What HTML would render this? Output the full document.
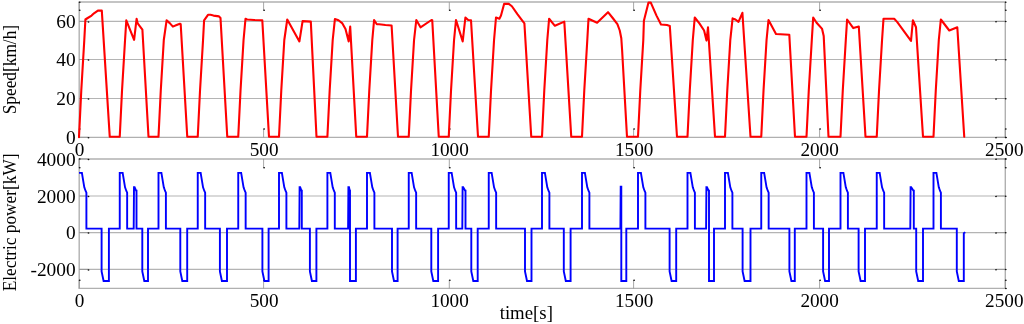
<!DOCTYPE html>
<html><head><meta charset="utf-8"><title>Speed and electric power</title>
<style>html,body{margin:0;padding:0;background:#fff;width:1024px;height:324px;overflow:hidden}</style>
</head><body>
<svg width="1024" height="324" viewBox="0 0 1024 324" style="position:absolute;left:0;top:0">
<rect x="0" y="0" width="1024" height="324" fill="#fff"/>
<line x1="79.2" y1="98.50" x2="1005.3" y2="98.50" stroke="#b4b4b4" stroke-width="1.15"/>
<line x1="79.2" y1="59.50" x2="1005.3" y2="59.50" stroke="#b4b4b4" stroke-width="1.15"/>
<line x1="79.2" y1="21.40" x2="1005.3" y2="21.40" stroke="#b4b4b4" stroke-width="1.15"/>
<line x1="79.2" y1="196.00" x2="1005.3" y2="196.00" stroke="#b4b4b4" stroke-width="1.15"/>
<line x1="79.2" y1="232.60" x2="1005.3" y2="232.60" stroke="#b4b4b4" stroke-width="1.15"/>
<line x1="79.2" y1="269.40" x2="1005.3" y2="269.40" stroke="#b4b4b4" stroke-width="1.15"/>
<line x1="78.5" y1="2.1" x2="1006.0" y2="2.1" stroke="#b0b0b0" stroke-width="1.5"/>
<line x1="78.60000000000001" y1="137.3" x2="1005.9" y2="137.3" stroke="#b0b0b0" stroke-width="1.2"/>
<line x1="79.2" y1="2.1" x2="79.2" y2="137.3" stroke="#b0b0b0" stroke-width="1.4"/>
<line x1="1005.3" y1="2.1" x2="1005.3" y2="137.3" stroke="#b0b0b0" stroke-width="1.4"/>
<line x1="78.5" y1="158.9" x2="1006.0" y2="158.9" stroke="#b0b0b0" stroke-width="1.5"/>
<line x1="78.60000000000001" y1="288.4" x2="1005.9" y2="288.4" stroke="#b0b0b0" stroke-width="1.2"/>
<line x1="79.2" y1="158.9" x2="79.2" y2="288.4" stroke="#b0b0b0" stroke-width="1.4"/>
<line x1="1005.3" y1="158.9" x2="1005.3" y2="288.4" stroke="#b0b0b0" stroke-width="1.4"/>
<line x1="79.20" y1="2.1" x2="79.20" y2="10.299999999999999" stroke="#909090" stroke-width="0.8"/>
<line x1="79.20" y1="137.3" x2="79.20" y2="129.10000000000002" stroke="#909090" stroke-width="0.8"/>
<line x1="263.60" y1="2.1" x2="263.60" y2="10.299999999999999" stroke="#909090" stroke-width="0.8"/>
<line x1="263.60" y1="137.3" x2="263.60" y2="129.10000000000002" stroke="#909090" stroke-width="0.8"/>
<line x1="449.30" y1="2.1" x2="449.30" y2="10.299999999999999" stroke="#909090" stroke-width="0.8"/>
<line x1="449.30" y1="137.3" x2="449.30" y2="129.10000000000002" stroke="#909090" stroke-width="0.8"/>
<line x1="633.60" y1="2.1" x2="633.60" y2="10.299999999999999" stroke="#909090" stroke-width="0.8"/>
<line x1="633.60" y1="137.3" x2="633.60" y2="129.10000000000002" stroke="#909090" stroke-width="0.8"/>
<line x1="819.60" y1="2.1" x2="819.60" y2="10.299999999999999" stroke="#909090" stroke-width="0.8"/>
<line x1="819.60" y1="137.3" x2="819.60" y2="129.10000000000002" stroke="#909090" stroke-width="0.8"/>
<line x1="1005.30" y1="2.1" x2="1005.30" y2="10.299999999999999" stroke="#909090" stroke-width="0.8"/>
<line x1="1005.30" y1="137.3" x2="1005.30" y2="129.10000000000002" stroke="#909090" stroke-width="0.8"/>
<line x1="79.2" y1="137.30" x2="88.5" y2="137.30" stroke="#909090" stroke-width="0.8"/>
<line x1="1005.3" y1="137.30" x2="996.0" y2="137.30" stroke="#909090" stroke-width="0.8"/>
<line x1="79.2" y1="98.50" x2="88.5" y2="98.50" stroke="#909090" stroke-width="0.8"/>
<line x1="1005.3" y1="98.50" x2="996.0" y2="98.50" stroke="#909090" stroke-width="0.8"/>
<line x1="79.2" y1="59.50" x2="88.5" y2="59.50" stroke="#909090" stroke-width="0.8"/>
<line x1="1005.3" y1="59.50" x2="996.0" y2="59.50" stroke="#909090" stroke-width="0.8"/>
<line x1="79.2" y1="21.40" x2="88.5" y2="21.40" stroke="#909090" stroke-width="0.8"/>
<line x1="1005.3" y1="21.40" x2="996.0" y2="21.40" stroke="#909090" stroke-width="0.8"/>
<line x1="79.20" y1="158.9" x2="79.20" y2="167.70000000000002" stroke="#909090" stroke-width="0.8"/>
<line x1="79.20" y1="288.4" x2="79.20" y2="280.2" stroke="#909090" stroke-width="0.8"/>
<line x1="263.60" y1="158.9" x2="263.60" y2="167.70000000000002" stroke="#909090" stroke-width="0.8"/>
<line x1="263.60" y1="288.4" x2="263.60" y2="280.2" stroke="#909090" stroke-width="0.8"/>
<line x1="449.30" y1="158.9" x2="449.30" y2="167.70000000000002" stroke="#909090" stroke-width="0.8"/>
<line x1="449.30" y1="288.4" x2="449.30" y2="280.2" stroke="#909090" stroke-width="0.8"/>
<line x1="633.60" y1="158.9" x2="633.60" y2="167.70000000000002" stroke="#909090" stroke-width="0.8"/>
<line x1="633.60" y1="288.4" x2="633.60" y2="280.2" stroke="#909090" stroke-width="0.8"/>
<line x1="819.60" y1="158.9" x2="819.60" y2="167.70000000000002" stroke="#909090" stroke-width="0.8"/>
<line x1="819.60" y1="288.4" x2="819.60" y2="280.2" stroke="#909090" stroke-width="0.8"/>
<line x1="1005.30" y1="158.9" x2="1005.30" y2="167.70000000000002" stroke="#909090" stroke-width="0.8"/>
<line x1="1005.30" y1="288.4" x2="1005.30" y2="280.2" stroke="#909090" stroke-width="0.8"/>
<line x1="79.2" y1="269.40" x2="88.5" y2="269.40" stroke="#909090" stroke-width="0.8"/>
<line x1="1005.3" y1="269.40" x2="996.0" y2="269.40" stroke="#909090" stroke-width="0.8"/>
<line x1="79.2" y1="232.60" x2="88.5" y2="232.60" stroke="#909090" stroke-width="0.8"/>
<line x1="1005.3" y1="232.60" x2="996.0" y2="232.60" stroke="#909090" stroke-width="0.8"/>
<line x1="79.2" y1="196.00" x2="88.5" y2="196.00" stroke="#909090" stroke-width="0.8"/>
<line x1="1005.3" y1="196.00" x2="996.0" y2="196.00" stroke="#909090" stroke-width="0.8"/>
<line x1="79.2" y1="158.90" x2="88.5" y2="158.90" stroke="#909090" stroke-width="0.8"/>
<line x1="1005.3" y1="158.90" x2="996.0" y2="158.90" stroke="#909090" stroke-width="0.8"/>
<ellipse cx="79.70" cy="10.30" rx="0.95" ry="0.75" fill="#111"/>
<ellipse cx="79.70" cy="129.10" rx="0.95" ry="0.75" fill="#111"/>
<ellipse cx="264.10" cy="10.30" rx="0.95" ry="0.75" fill="#111"/>
<ellipse cx="264.10" cy="129.10" rx="0.95" ry="0.75" fill="#111"/>
<ellipse cx="449.80" cy="10.30" rx="0.95" ry="0.75" fill="#111"/>
<ellipse cx="449.80" cy="129.10" rx="0.95" ry="0.75" fill="#111"/>
<ellipse cx="634.10" cy="10.30" rx="0.95" ry="0.75" fill="#111"/>
<ellipse cx="634.10" cy="129.10" rx="0.95" ry="0.75" fill="#111"/>
<ellipse cx="820.10" cy="10.30" rx="0.95" ry="0.75" fill="#111"/>
<ellipse cx="820.10" cy="129.10" rx="0.95" ry="0.75" fill="#111"/>
<ellipse cx="1005.80" cy="10.30" rx="0.95" ry="0.75" fill="#111"/>
<ellipse cx="1005.80" cy="129.10" rx="0.95" ry="0.75" fill="#111"/>
<ellipse cx="88.50" cy="137.80" rx="0.95" ry="0.75" fill="#111"/>
<ellipse cx="996.00" cy="137.70" rx="0.95" ry="0.75" fill="#111"/>
<ellipse cx="1005.70" cy="137.50" rx="0.95" ry="0.75" fill="#111"/>
<ellipse cx="88.50" cy="99.00" rx="0.95" ry="0.75" fill="#111"/>
<ellipse cx="996.00" cy="98.90" rx="0.95" ry="0.75" fill="#111"/>
<ellipse cx="1005.70" cy="98.70" rx="0.95" ry="0.75" fill="#111"/>
<ellipse cx="88.50" cy="60.00" rx="0.95" ry="0.75" fill="#111"/>
<ellipse cx="996.00" cy="59.90" rx="0.95" ry="0.75" fill="#111"/>
<ellipse cx="1005.70" cy="59.70" rx="0.95" ry="0.75" fill="#111"/>
<ellipse cx="88.50" cy="21.90" rx="0.95" ry="0.75" fill="#111"/>
<ellipse cx="996.00" cy="21.80" rx="0.95" ry="0.75" fill="#111"/>
<ellipse cx="1005.70" cy="21.60" rx="0.95" ry="0.75" fill="#111"/>
<ellipse cx="79.70" cy="2.30" rx="0.95" ry="0.75" fill="#111"/>
<ellipse cx="1005.70" cy="2.30" rx="0.95" ry="0.75" fill="#111"/>
<ellipse cx="1005.90" cy="137.40" rx="0.95" ry="0.75" fill="#111"/>
<ellipse cx="79.70" cy="167.70" rx="0.95" ry="0.75" fill="#111"/>
<ellipse cx="79.70" cy="280.20" rx="0.95" ry="0.75" fill="#111"/>
<ellipse cx="264.10" cy="167.70" rx="0.95" ry="0.75" fill="#111"/>
<ellipse cx="264.10" cy="280.20" rx="0.95" ry="0.75" fill="#111"/>
<ellipse cx="449.80" cy="167.70" rx="0.95" ry="0.75" fill="#111"/>
<ellipse cx="449.80" cy="280.20" rx="0.95" ry="0.75" fill="#111"/>
<ellipse cx="634.10" cy="167.70" rx="0.95" ry="0.75" fill="#111"/>
<ellipse cx="634.10" cy="280.20" rx="0.95" ry="0.75" fill="#111"/>
<ellipse cx="820.10" cy="167.70" rx="0.95" ry="0.75" fill="#111"/>
<ellipse cx="820.10" cy="280.20" rx="0.95" ry="0.75" fill="#111"/>
<ellipse cx="1005.80" cy="167.70" rx="0.95" ry="0.75" fill="#111"/>
<ellipse cx="1005.80" cy="280.20" rx="0.95" ry="0.75" fill="#111"/>
<ellipse cx="88.50" cy="269.90" rx="0.95" ry="0.75" fill="#111"/>
<ellipse cx="996.00" cy="269.80" rx="0.95" ry="0.75" fill="#111"/>
<ellipse cx="1005.70" cy="269.60" rx="0.95" ry="0.75" fill="#111"/>
<ellipse cx="88.50" cy="233.10" rx="0.95" ry="0.75" fill="#111"/>
<ellipse cx="996.00" cy="233.00" rx="0.95" ry="0.75" fill="#111"/>
<ellipse cx="1005.70" cy="232.80" rx="0.95" ry="0.75" fill="#111"/>
<ellipse cx="88.50" cy="196.50" rx="0.95" ry="0.75" fill="#111"/>
<ellipse cx="996.00" cy="196.40" rx="0.95" ry="0.75" fill="#111"/>
<ellipse cx="1005.70" cy="196.20" rx="0.95" ry="0.75" fill="#111"/>
<ellipse cx="88.50" cy="159.40" rx="0.95" ry="0.75" fill="#111"/>
<ellipse cx="996.00" cy="159.30" rx="0.95" ry="0.75" fill="#111"/>
<ellipse cx="1005.70" cy="159.10" rx="0.95" ry="0.75" fill="#111"/>
<ellipse cx="79.70" cy="159.10" rx="0.95" ry="0.75" fill="#111"/>
<ellipse cx="1005.70" cy="159.10" rx="0.95" ry="0.75" fill="#111"/>
<ellipse cx="1005.90" cy="288.50" rx="0.95" ry="0.75" fill="#111"/>
<polyline points="79.00,137.20 81.30,90.00 84.30,40.00 85.40,19.50 87.70,18.00 91.60,15.60 94.00,13.30 97.90,10.60 101.80,10.60 109.75,136.80 119.75,136.80 122.05,90.00 125.05,40.00 126.30,20.30 134.10,39.80 136.60,18.75 137.70,23.40 140.10,26.60 142.40,29.70 148.50,136.80 158.50,136.80 160.80,90.00 163.80,40.00 166.60,20.30 169.75,23.10 172.90,26.60 176.00,25.30 179.90,23.75 180.70,24.20 187.25,136.80 197.75,136.80 200.05,90.00 203.05,40.00 204.10,20.30 208.00,14.80 210.40,14.80 213.50,15.60 219.00,16.40 220.50,18.00 227.25,136.80 238.25,136.80 240.55,90.00 243.55,40.00 245.50,18.75 247.10,19.50 254.10,20.00 262.30,20.30 269.00,136.80 279.00,136.80 281.30,90.00 284.30,40.00 287.25,19.50 299.40,41.40 302.60,21.10 310.80,21.60 316.50,136.80 327.40,136.80 329.70,90.00 332.70,40.00 334.90,19.10 338.50,20.30 342.40,23.40 345.50,28.90 348.70,41.40 350.20,26.60 356.25,136.80 367.00,136.80 369.30,90.00 372.30,40.00 374.10,20.00 376.80,24.20 379.10,24.20 385.40,25.00 391.60,25.50 398.00,136.80 408.75,136.80 411.05,90.00 414.05,40.00 416.30,20.00 420.50,27.30 431.50,20.00 432.25,20.30 438.75,136.80 448.75,136.80 451.05,90.00 454.05,40.00 456.00,20.00 462.70,41.40 465.40,17.50 468.20,20.00 471.00,20.30 478.00,136.80 488.75,136.80 491.05,90.00 494.05,40.00 496.00,17.50 499.40,18.75 501.00,15.60 504.10,3.90 508.80,3.90 511.90,6.25 517.40,14.10 522.10,20.30 524.40,23.40 531.25,136.80 542.00,136.80 544.30,90.00 547.30,40.00 549.10,18.75 554.90,25.80 564.30,21.60 571.25,136.80 582.00,136.80 584.30,90.00 587.30,40.00 588.50,18.75 597.10,22.70 608.00,12.20 612.70,18.00 617.40,24.20 619.75,30.50 621.30,38.30 622.10,50.00 627.00,136.80 638.00,136.80 640.30,90.00 643.30,40.00 643.90,20.80 648.50,2.60 650.80,2.60 656.50,15.60 661.00,24.50 667.00,25.00 669.80,25.90 677.00,136.80 687.50,136.80 689.80,90.00 692.80,40.00 694.75,17.50 699.40,23.40 704.10,30.50 706.50,40.60 708.00,27.30 715.00,136.80 725.00,136.80 727.30,90.00 730.30,40.00 732.60,18.40 735.40,19.50 738.50,21.90 742.40,12.80 750.50,136.80 761.25,136.80 763.55,90.00 766.55,40.00 768.50,20.00 776.00,34.00 789.30,34.70 795.00,136.80 806.50,136.80 808.80,90.00 811.80,40.00 813.20,17.50 816.60,22.70 822.10,28.90 823.70,35.90 828.50,136.80 840.50,136.80 842.80,90.00 845.80,40.00 847.10,19.50 853.30,28.10 858.80,26.60 865.50,136.80 876.75,136.80 879.05,90.00 882.05,40.00 883.50,18.75 894.20,18.75 897.10,21.90 911.00,40.90 912.90,20.30 916.00,27.30 923.00,136.80 933.50,136.80 935.80,90.00 938.80,40.00 940.85,19.50 949.30,30.50 957.30,27.30 964.25,136.80" fill="none" stroke="#ff0000" stroke-width="2.1" stroke-linejoin="round" stroke-linecap="round"/>
<polyline points="79.00,172.90 81.90,172.90 84.30,187.30 85.60,191.00 86.40,192.60 86.40,228.60 101.60,228.60 101.60,271.50 103.60,281.00 108.90,281.00 108.90,228.60 119.75,228.60 119.75,172.90 122.65,172.90 125.05,187.30 126.35,191.00 127.15,192.60 127.15,228.60 133.70,228.60 134.00,187.30 134.60,187.30 136.20,190.80 136.50,190.80 136.50,228.60 142.30,228.60 142.30,271.50 144.30,281.00 148.00,281.00 148.00,228.60 158.50,228.60 158.50,172.90 161.40,172.90 163.80,187.30 165.10,191.00 165.90,192.60 165.90,228.60 180.30,228.60 180.30,271.50 182.30,281.00 187.20,281.00 187.20,228.60 197.75,228.60 197.75,172.90 200.65,172.90 203.05,187.30 204.35,191.00 205.15,192.60 205.15,228.60 219.90,228.60 219.90,271.50 221.90,281.00 227.00,281.00 227.00,228.60 238.25,228.60 238.25,172.90 241.15,172.90 243.55,187.30 244.85,191.00 245.65,192.60 245.65,228.60 262.40,228.60 262.40,271.50 264.40,281.00 268.60,281.00 268.60,228.60 279.00,228.60 279.00,172.90 281.90,172.90 284.30,187.30 285.60,191.00 286.40,192.60 286.40,228.60 299.30,228.60 299.60,187.30 300.20,187.30 301.50,190.80 301.80,190.80 301.80,228.60 309.90,228.60 309.90,271.50 311.90,281.00 316.40,281.00 316.40,228.60 327.40,228.60 327.40,172.90 330.30,172.90 332.70,187.30 334.00,191.00 334.80,192.60 334.80,228.60 348.10,228.60 348.40,187.30 349.00,187.30 349.70,190.80 350.00,190.80 350.00,281.00 355.90,281.00 355.90,228.60 367.00,228.60 367.00,172.90 369.90,172.90 372.30,187.30 373.60,191.00 374.40,192.60 374.40,228.60 392.00,228.60 392.00,271.50 394.00,281.00 397.60,281.00 397.60,228.60 408.75,228.60 408.75,172.90 411.65,172.90 414.05,187.30 415.35,191.00 416.15,192.60 416.15,228.60 431.30,228.60 431.30,271.50 433.30,281.00 438.10,281.00 438.10,228.60 448.75,228.60 448.75,172.90 451.65,172.90 454.05,187.30 455.35,191.00 456.15,192.60 456.15,228.60 462.30,228.60 462.60,187.30 463.20,187.30 465.20,190.80 465.50,190.80 465.50,228.60 471.30,228.60 471.30,271.50 473.30,281.00 477.70,281.00 477.70,228.60 488.75,228.60 488.75,172.90 491.65,172.90 494.05,187.30 495.35,191.00 496.15,192.60 496.15,228.60 525.00,228.60 525.00,271.50 527.00,281.00 531.50,281.00 531.50,228.60 542.00,228.60 542.00,172.90 544.90,172.90 547.30,187.30 548.60,191.00 549.40,192.60 549.40,228.60 563.80,228.60 563.80,271.50 565.80,281.00 570.60,281.00 570.60,228.60 582.00,228.60 582.00,172.90 584.90,172.90 587.30,187.30 588.60,191.00 589.40,192.60 589.40,228.60 620.40,228.60 620.70,186.80 621.30,186.80 621.30,281.00 626.30,281.00 626.30,228.60 638.00,228.60 638.00,172.90 640.90,172.90 643.30,187.30 644.60,191.00 645.40,192.60 645.40,228.60 669.60,228.60 669.60,271.50 671.60,281.00 676.20,281.00 676.20,228.60 687.50,228.60 687.50,172.90 690.40,172.90 692.80,187.30 694.10,191.00 694.90,192.60 694.90,228.60 706.10,228.60 706.40,187.30 707.00,187.30 708.70,190.80 709.00,190.80 709.00,281.00 714.00,281.00 714.00,228.60 725.00,228.60 725.00,172.90 727.90,172.90 730.30,187.30 731.60,191.00 732.40,192.60 732.40,228.60 742.60,228.60 742.60,271.50 744.60,281.00 750.50,281.00 750.50,228.60 761.25,228.60 761.25,172.90 764.15,172.90 766.55,187.30 767.85,191.00 768.65,192.60 768.65,228.60 789.40,228.60 789.40,271.50 791.40,281.00 794.80,281.00 794.80,228.60 806.50,228.60 806.50,172.90 809.40,172.90 811.80,187.30 813.10,191.00 813.90,192.60 813.90,228.60 823.10,228.60 823.10,271.50 825.10,281.00 829.00,281.00 829.00,228.60 840.50,228.60 840.50,172.90 843.40,172.90 845.80,187.30 847.10,191.00 847.90,192.60 847.90,228.60 858.60,228.60 858.60,271.50 860.60,281.00 865.00,281.00 865.00,228.60 876.75,228.60 876.75,172.90 879.65,172.90 882.05,187.30 883.35,191.00 884.15,192.60 884.15,228.60 910.30,228.60 910.60,187.30 911.20,187.30 913.50,190.80 913.80,190.80 913.80,228.60 916.20,228.60 916.20,271.50 918.20,281.00 923.00,281.00 923.00,228.60 933.50,228.60 933.50,172.90 936.40,172.90 938.80,187.30 940.10,191.00 940.90,192.60 940.90,228.60 956.80,228.60 956.80,271.50 958.80,281.00 963.80,281.00 963.80,233.20 965.30,232.30" fill="none" stroke="#0000ff" stroke-width="1.9" stroke-linejoin="miter" stroke-miterlimit="3" stroke-linecap="butt"/>
<g font-family="Liberation Serif, serif" font-size="17.8" fill="#000" style="font-kerning:none">
<text x="0" y="0" transform="translate(79.50,155.60) scale(1.08,1)" text-anchor="middle">0</text>
<text x="0" y="0" transform="translate(79.50,306.80) scale(1.08,1)" text-anchor="middle">0</text>
<text x="0" y="0" transform="translate(264.10,155.60) scale(1.08,1)" text-anchor="middle">500</text>
<text x="0" y="0" transform="translate(264.10,306.80) scale(1.08,1)" text-anchor="middle">500</text>
<text x="0" y="0" transform="translate(449.60,155.60) scale(1.08,1)" text-anchor="middle">1000</text>
<text x="0" y="0" transform="translate(449.60,306.80) scale(1.08,1)" text-anchor="middle">1000</text>
<text x="0" y="0" transform="translate(634.20,155.60) scale(1.08,1)" text-anchor="middle">1500</text>
<text x="0" y="0" transform="translate(634.20,306.80) scale(1.08,1)" text-anchor="middle">1500</text>
<text x="0" y="0" transform="translate(819.60,155.60) scale(1.08,1)" text-anchor="middle">2000</text>
<text x="0" y="0" transform="translate(819.60,306.80) scale(1.08,1)" text-anchor="middle">2000</text>
<text x="0" y="0" transform="translate(1004.30,155.60) scale(1.08,1)" text-anchor="middle">2500</text>
<text x="0" y="0" transform="translate(1004.30,306.80) scale(1.08,1)" text-anchor="middle">2500</text>
<text x="0" y="0" transform="translate(75.60,143.80) scale(1.09,1)" text-anchor="end">0</text>
<text x="0" y="0" transform="translate(75.60,105.00) scale(1.09,1)" text-anchor="end">20</text>
<text x="0" y="0" transform="translate(75.60,66.00) scale(1.09,1)" text-anchor="end">40</text>
<text x="0" y="0" transform="translate(75.60,27.90) scale(1.09,1)" text-anchor="end">60</text>
<text x="0" y="0" transform="translate(75.70,165.50) scale(1.09,1)" text-anchor="end">4000</text>
<text x="0" y="0" transform="translate(75.70,203.30) scale(1.09,1)" text-anchor="end">2000</text>
<text x="0" y="0" transform="translate(75.70,239.20) scale(1.09,1)" text-anchor="end">0</text>
<text x="0" y="0" transform="translate(75.70,276.00) scale(1.09,1)" text-anchor="end">-2000</text>
<text x="526.3" y="318.5" text-anchor="middle" font-size="18.8">time[s]</text>
<text x="0" y="0" transform="translate(16.0,69.6) scale(1.06,1) rotate(-90)" text-anchor="middle" font-size="17.3">Speed[km/h]</text>
<text x="0" y="0" transform="translate(16.2,222.4) scale(1.06,1) rotate(-90)" text-anchor="middle" font-size="17.3">Electric power[kW]</text>
</g>
</svg>
</body></html>
